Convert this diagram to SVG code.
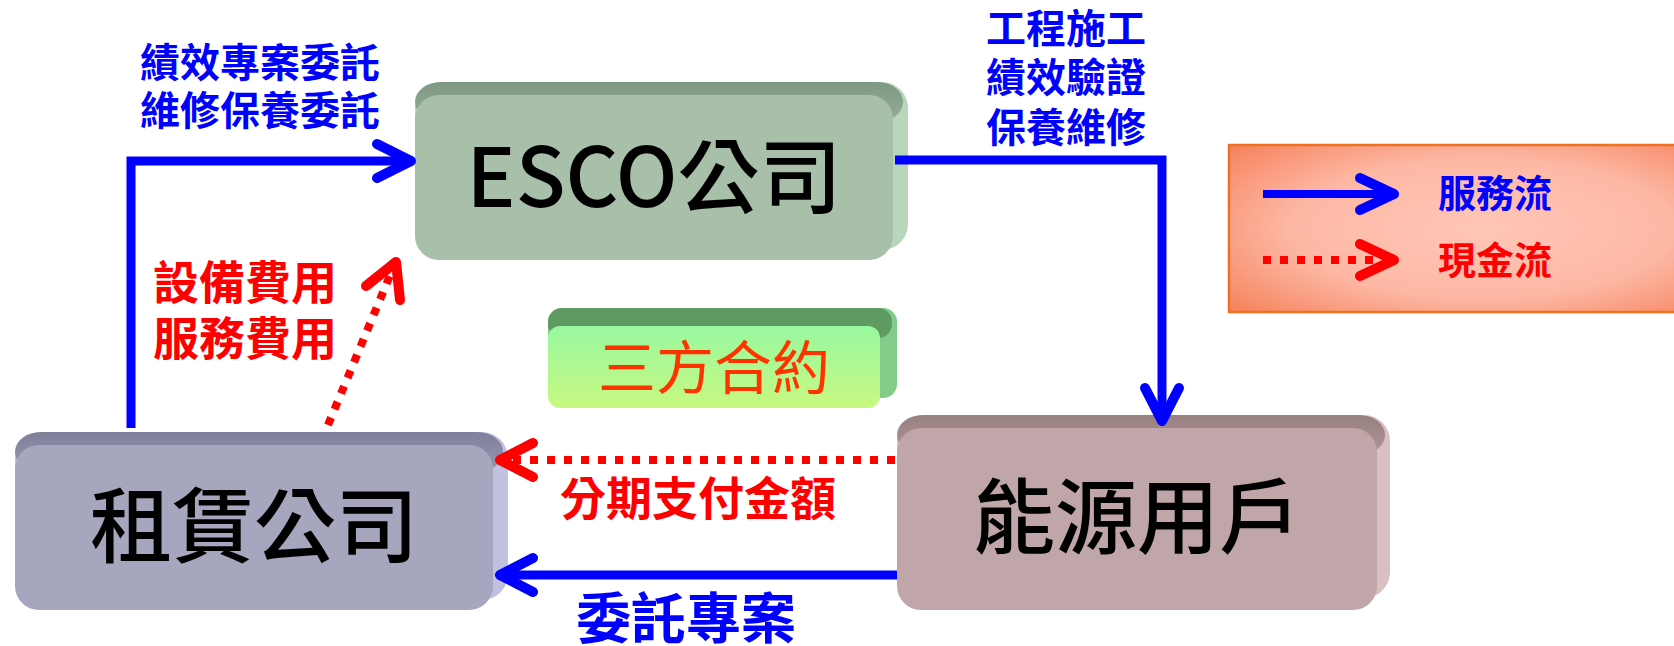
<svg xmlns="http://www.w3.org/2000/svg" width="1674" height="646" viewBox="0 0 1674 646">
<defs>
<style>
.cjk{font-family:"Noto Sans CJK TC","Noto Sans CJK SC","Noto Sans",sans-serif;}
.node{font-size:82px;fill:#000;text-anchor:middle;font-weight:500;}
.blbl{font-size:40px;fill:#0000FF;font-weight:bold;text-anchor:middle;}
.rlbl{font-size:46px;fill:#FF0000;font-weight:bold;text-anchor:middle;}
.svc{fill:none;stroke:#0000FF;stroke-width:9;stroke-linejoin:miter;}
.cash{fill:none;stroke:#FF0000;stroke-width:8;stroke-dasharray:8 9;}
.headb{fill:none;stroke:#0000FF;stroke-width:10;stroke-linecap:round;stroke-linejoin:round;}
.headr{fill:none;stroke:#FF0000;stroke-width:10;stroke-linecap:round;stroke-linejoin:round;}
</style>
<linearGradient id="gEscoTop" x1="0" y1="0" x2="0" y2="1"><stop offset="0" stop-color="#7F9884"/><stop offset="1" stop-color="#96AE98"/></linearGradient>
<linearGradient id="gLeaseTop" x1="0" y1="0" x2="0" y2="1"><stop offset="0" stop-color="#80809A"/><stop offset="1" stop-color="#9696B0"/></linearGradient>
<linearGradient id="gUserTop" x1="0" y1="0" x2="0" y2="1"><stop offset="0" stop-color="#988080"/><stop offset="1" stop-color="#AE9696"/></linearGradient>
<linearGradient id="gContract" x1="0" y1="0" x2="0" y2="1"><stop offset="0" stop-color="#98F8A0"/><stop offset="1" stop-color="#C8F880"/></linearGradient>
<radialGradient id="gLegend" cx="0.55" cy="0.5" r="0.75"><stop offset="0" stop-color="#FFC6B8"/><stop offset="0.55" stop-color="#FDB8A4"/><stop offset="1" stop-color="#F57F58"/></radialGradient>
</defs>
<rect width="1674" height="646" fill="#FFFFFF"/>

<g id="legend">
<rect x="1229" y="145" width="460" height="167" fill="url(#gLegend)" stroke="#F07020" stroke-width="2.5"/>
<line x1="1263" y1="194" x2="1390" y2="194" stroke="#0000FF" stroke-width="8"/>
<polyline class="headb" points="1360,178 1394,194 1360,210"/>
<line x1="1263" y1="260" x2="1390" y2="260" stroke="#FF0000" stroke-width="8" stroke-dasharray="8 9"/>
<polyline class="headr" points="1360,244 1394,260 1360,276"/>
<text class="cjk" x="1438" y="207" font-size="38" font-weight="bold" fill="#0000FF">服務流</text>
<text class="cjk" x="1438" y="274" font-size="38" font-weight="bold" fill="#FF0000">現金流</text>
</g>

<g id="esco">
<rect x="415" y="82" width="493" height="168" rx="26" fill="#B8D6BC"/>
<rect x="415" y="82" width="488" height="40" rx="26" fill="url(#gEscoTop)"/>
<rect x="415" y="95" width="478" height="165" rx="24" fill="#A8C0AA"/>
<text class="cjk node" x="654" y="207">ESCO公司</text>
</g>

<g id="lease">
<rect x="15" y="432" width="493" height="168" rx="26" fill="#C0C0E0"/>
<rect x="15" y="432" width="488" height="40" rx="26" fill="url(#gLeaseTop)"/>
<rect x="15" y="445" width="478" height="165" rx="24" fill="#A6A6BE"/>
<text class="cjk node" x="254" y="556">租賃公司</text>
</g>

<g id="user">
<rect x="897" y="415" width="493" height="183" rx="26" fill="#D8C0C2"/>
<rect x="897" y="415" width="488" height="40" rx="26" fill="url(#gUserTop)"/>
<rect x="897" y="428" width="480" height="182" rx="24" fill="#C0A6A8"/>
<text class="cjk node" x="1137" y="547">能源用戶</text>
</g>

<g id="contract">
<rect x="548" y="308" width="349" height="90" rx="14" fill="#80CC88"/>
<rect x="548" y="308" width="344" height="30" rx="14" fill="#5E9A62"/>
<rect x="548" y="326" width="332" height="82" rx="12" fill="url(#gContract)"/>
<text class="cjk" x="714" y="389" font-size="58" fill="#FF3300" text-anchor="middle">三方合約</text>
</g>

<g id="connectors">
<polyline class="svc" points="131,428 131,161 408,161"/>
<polyline class="headb" points="377,144 411,161 377,178"/>
<polyline class="svc" points="895,160 1162,160 1162,418"/>
<polyline class="headb" points="1145,388 1162,421 1179,388"/>
<line class="cash" x1="895" y1="460" x2="503" y2="460"/>
<polyline class="headr" points="533,443 500,460 533,477"/>
<line class="svc" x1="897" y1="575" x2="503" y2="575"/>
<polyline class="headb" points="533,558 500,575 533,592"/>
<line class="cash" x1="328" y1="425" x2="391" y2="273"/>
<polyline class="headr" points="366,286 396,262 400,300"/>
</g>

<g id="labels">
<text class="cjk blbl" x="260" y="77">績效專案委託<tspan x="260" y="125">維修保養委託</tspan></text>
<text class="cjk blbl" x="1066" y="43">工程施工<tspan x="1066" y="92">績效驗證</tspan><tspan x="1066" y="142">保養維修</tspan></text>
<text class="cjk rlbl" x="245" y="299">設備費用<tspan x="245" y="355">服務費用</tspan></text>
<text class="cjk rlbl" x="698" y="515">分期支付金額</text>
<text class="cjk" x="686" y="638" font-size="55" font-weight="bold" fill="#0000FF" text-anchor="middle">委託專案</text>
</g>
</svg>
